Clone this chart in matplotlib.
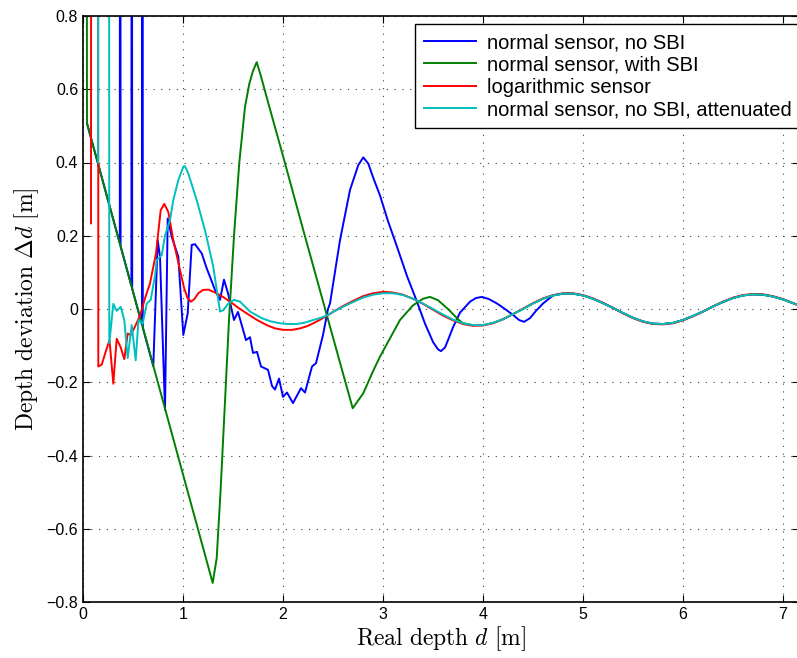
import matplotlib
matplotlib.use("Agg")
import matplotlib.pyplot as plt
import numpy as np

# ── Data ─────────────────────────────────────────────────────────────────────
# shared oscillating tail, x = 2.5 ... 7.15
tail_x = [2.5, 2.6, 2.7, 2.8, 2.9, 3.0, 3.1, 3.2, 3.3, 3.4, 3.5, 3.6, 3.7, 3.8,
          3.9, 4.0, 4.1, 4.2, 4.3, 4.4, 4.5, 4.6, 4.7, 4.8, 4.9, 5.0, 5.1, 5.2,
          5.3, 5.4, 5.5, 5.6, 5.7, 5.8, 5.9, 6.0, 6.1, 6.2, 6.3, 6.4, 6.5, 6.6,
          6.7, 6.8, 6.9, 7.0, 7.1, 7.15]
red_tail = [-0.008, 0.008, 0.022, 0.035, 0.043, 0.047, 0.045, 0.039, 0.028, 0.014,
            -0.002, -0.018, -0.031, -0.041, -0.046, -0.045, -0.039, -0.028, -0.014,
            0.001, 0.016, 0.029, 0.038, 0.043, 0.043, 0.038, 0.029, 0.017, 0.003,
            -0.012, -0.025, -0.035, -0.041, -0.042, -0.039, -0.031, -0.020, -0.007,
            0.007, 0.020, 0.031, 0.038, 0.041, 0.040, 0.035, 0.027, 0.016, 0.011]
cyan_tail = [-0.008, 0.006, 0.019, 0.031, 0.039, 0.043, 0.043, 0.038, 0.028, 0.015,
             0.000, -0.015, -0.029, -0.039, -0.044, -0.044, -0.038, -0.028, -0.014,
             0.000, 0.015, 0.028, 0.037, 0.042, 0.042, 0.037, 0.028, 0.016, 0.003,
             -0.011, -0.024, -0.034, -0.040, -0.041, -0.038, -0.030, -0.019, -0.007,
             0.007, 0.019, 0.030, 0.037, 0.040, 0.039, 0.034, 0.026, 0.016, 0.011]

# normal sensor, no SBI (before it joins the tail)
blue_x = [0.04, 0.368, 0.372, 0.376, 0.484, 0.488, 0.492, 0.59, 0.594, 0.598,
          0.703, 0.747, 0.77, 0.82, 0.847, 0.887, 0.953, 1.003, 1.047, 1.087,
          1.12, 1.187, 1.237, 1.27, 1.32, 1.37, 1.41, 1.45, 1.51, 1.55, 1.63,
          1.67, 1.70, 1.74, 1.78, 1.85, 1.89, 1.92, 1.96, 2.00, 2.04, 2.10,
          2.18, 2.22, 2.29, 2.33, 2.40, 2.45, 2.47, 2.57, 2.67, 2.753, 2.803,
          2.853, 2.9, 2.97, 3.05, 3.14, 3.24, 3.34, 3.42, 3.5, 3.55, 3.58, 3.62,
          3.65, 3.7, 3.77, 3.87, 3.93, 3.99, 4.06, 4.14, 4.22, 4.30, 4.36, 4.41,
          4.47, 4.53, 4.6]
blue_y = [0.507, 0.179, 3.0, 0.171, 0.063, 3.0, 0.055, -0.043, 3.0, -0.051,
          -0.156, 0.188, 0.143, -0.275, 0.247, 0.197, 0.143, -0.071, -0.012, 0.175,
          0.177, 0.152, 0.111, 0.088, 0.052, 0.025, 0.08, 0.043, -0.03, -0.008, -0.085,
          -0.077, -0.12, -0.117, -0.157, -0.166, -0.21, -0.22, -0.19, -0.24, -0.228, -0.257,
          -0.216, -0.228, -0.157, -0.148, -0.071, 0.0, 0.015, 0.188, 0.325, 0.393, 0.414,
          0.397, 0.36, 0.31, 0.24, 0.17, 0.09, 0.02, -0.04, -0.09, -0.11, -0.115, -0.105,
          -0.085, -0.05, -0.01, 0.02, 0.03, 0.033, 0.027, 0.015, 0.0, -0.016, -0.03, -0.035,
          -0.025, -0.005, 0.015]

# normal sensor, with SBI
green_x = [0.03, 0.04, 1.297, 1.337, 1.375, 1.415, 1.46, 1.51, 1.563, 1.62, 1.663,
           1.70, 1.737, 1.78, 1.85, 2.003, 2.2, 2.4, 2.6, 2.697, 2.803, 2.9, 2.97,
           3.07, 3.17, 3.3, 3.4, 3.47, 3.55, 3.65, 3.75]
green_y = [3.0, 0.507, -0.748, -0.68, -0.5, -0.28, -0.03, 0.2, 0.4, 0.552, 0.615,
           0.65, 0.674, 0.635, 0.565, 0.415, 0.218, 0.021, -0.176, -0.271, -0.23, -0.17, -0.13,
           -0.08, -0.03, 0.01, 0.028, 0.033, 0.024, 0.0, -0.028]

# logarithmic sensor
red_x = [0.08, 0.083, 0.15, 0.153, 0.187, 0.23, 0.265, 0.303, 0.337, 0.377, 0.413,
         0.447, 0.477, 0.52, 0.57, 0.62, 0.67, 0.73, 0.777, 0.813, 0.853, 0.903,
         0.963, 1.01, 1.045, 1.08, 1.113, 1.153, 1.2, 1.253, 1.32, 1.4, 1.47, 1.55,
         1.637, 1.74, 1.837, 1.92, 2.003, 2.09, 2.17, 2.24, 2.303, 2.38, 2.453]
red_y = [0.234, 3.0, 3.0, -0.157, -0.152, -0.114, -0.085, -0.204, -0.081, -0.105, -0.137,
         -0.067, -0.071, -0.048, -0.018, 0.029, 0.07, 0.152, 0.27, 0.287, 0.265, 0.188,
         0.115, 0.058, 0.03, 0.02, 0.027, 0.043, 0.052, 0.053, 0.045, 0.033, 0.02, 0.004,
         -0.012, -0.03, -0.044, -0.053, -0.057, -0.057, -0.053, -0.047, -0.039, -0.028, -0.016]

# normal sensor, no SBI, attenuated
cyan_x = [0.15, 0.155, 0.258, 0.263, 0.303, 0.337, 0.377, 0.413, 0.447, 0.487, 0.527,
          0.555, 0.597, 0.637, 0.677, 0.72, 0.737, 0.787, 0.82, 0.87, 0.903, 0.953,
          1.003, 1.02, 1.053, 1.137, 1.22, 1.303, 1.37, 1.403, 1.453, 1.51, 1.57, 1.67,
          1.787, 1.88, 1.97, 2.05, 2.137, 2.22, 2.303, 2.38, 2.453]
cyan_y = [0.40, 3.0, 3.0, -0.094, 0.014, -0.005, 0.006, -0.03, -0.134, -0.044, -0.14,
          -0.03, -0.04, 0.015, 0.025, 0.09, 0.134, 0.147, 0.2, 0.243, 0.297, 0.352,
          0.388, 0.39, 0.37, 0.297, 0.215, 0.115, -0.007, -0.003, 0.015, 0.025, 0.02, -0.007,
          -0.025, -0.034, -0.039, -0.041, -0.041, -0.037, -0.03, -0.024, -0.016]

labels = ["normal sensor, no SBI", "normal sensor, with SBI",
          "logarithmic sensor", "normal sensor, no SBI, attenuated"]
colors = ["#0000ff", "#008000", "#ff0000", "#00bfbf"]

# join each curve onto the shared tail
tx = np.array(tail_x)
rt = np.array(red_tail)
ct = np.array(cyan_tail)
curves = [
    (np.r_[blue_x, tx[tx > 4.65]], np.r_[blue_y, ct[tx > 4.65]]),
    (np.r_[green_x, tx[tx > 3.78]], np.r_[green_y, ct[tx > 3.78]]),
    (np.r_[red_x, tx], np.r_[red_y, rt]),
    (np.r_[cyan_x, tx], np.r_[cyan_y, ct]),
]

# ── Figure ───────────────────────────────────────────────────────────────────
plt.rcParams["font.family"] = ["Liberation Sans", "DejaVu Sans"]
plt.rcParams["mathtext.fontset"] = "cm"

fig = plt.figure(figsize=(7.97, 6.58), dpi=100)
ax = fig.add_axes([83 / 797, 56 / 658, 716 / 797, 586 / 658])

for (x, y), c, lbl in zip(curves, colors, labels):
    ax.plot(x, y, color=c, linewidth=1.4, label=lbl)

ax.set_xlim(0, 7.16)
ax.set_ylim(-0.8, 0.8)
ax.set_xticks(range(0, 8))
yt = np.round(np.arange(-0.8, 0.81, 0.2), 1)
ax.set_yticks(yt)
ax.set_yticklabels([("0" if v == 0 else f"{v:g}").replace("-", "\u2212") for v in yt])
ax.tick_params(direction="in", top=True, right=True, length=5, width=0.8,
               labelsize=11.5, colors="black")
ax.grid(True, linestyle=(0, (1, 6)), color="0.25", linewidth=0.8)
for s in ax.spines.values():
    s.set_linewidth(1.2)

ax.set_xlabel(r"$\mathrm{Real\ depth}\ d\ [\mathrm{m}]$", fontsize=17, labelpad=2)
ax.set_ylabel(r"$\mathrm{Depth\ deviation}\ \Delta d\ [\mathrm{m}]$", fontsize=17, labelpad=4)

leg = ax.legend(loc="upper left", bbox_to_anchor=((415 - 83) / 716, (602 - 24) / 586),
                fontsize=14.5, fancybox=False, framealpha=1, edgecolor="black",
                borderaxespad=0, handlelength=2.6, handletextpad=0.55,
                labelspacing=0.17, borderpad=0.45)
leg.get_frame().set_linewidth(1.0)

plt.savefig("out.png", dpi=100)
plt.close()
